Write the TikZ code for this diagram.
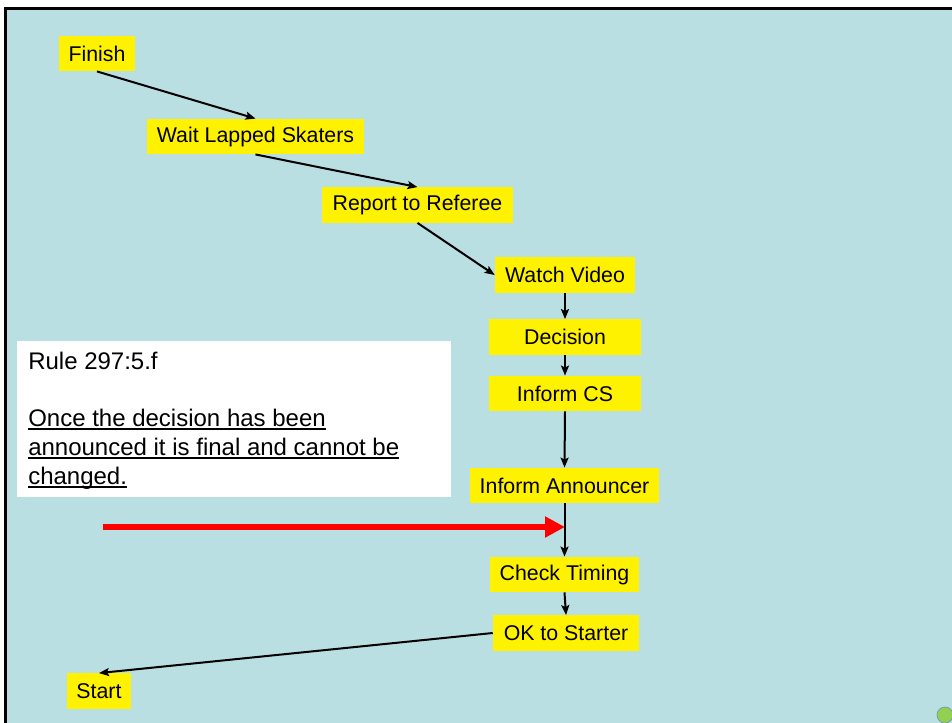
\documentclass[tikz,border=0pt]{standalone}
\usepackage{fontspec}
\setmainfont{Liberation Sans}
\usetikzlibrary{arrows.meta}
\definecolor{bgc}{HTML}{B9DFE3}
\definecolor{grn}{HTML}{92D050}
\definecolor{grnline}{HTML}{7A9CB0}
\begin{document}
\begin{tikzpicture}[x=0.75pt,y=-0.75pt,
  box/.style={fill=yellow, inner sep=0pt, minimum height=26.5pt, font=\fontsize{16}{19}\selectfont, text=black},
  arr/.style={line width=1.5pt, -{Stealth[length=7.5pt,width=6pt,inset=1.5pt]}},
  ruletxt/.style={anchor=base west, inner sep=0pt, font=\fontsize{18}{21.6}\selectfont},
  uline/.style={line width=1.4pt}
]
\useasboundingbox (0,0) rectangle (952,722);
\fill[white] (0,0) rectangle (952,722);
\begin{scope}
  \clip (0,0) rectangle (952,722);
  \filldraw[fill=bgc, draw=black, line width=2pt] (5.3,8.3) rectangle (975,745);
  \filldraw[fill=grn, draw=grnline, line width=0.6pt] (945,715) circle[radius=6pt];
\end{scope}

% flow boxes
\node[box, minimum width=57pt]     (finish)    at (97,53.5)   {Finish};
\node[box, minimum width=162.75pt] (wait)      at (255.5,136.5) {Wait Lapped Skaters};
\node[box, minimum width=143.25pt] (report)    at (417.5,205) {Report to Referee};
\node[box, minimum width=105pt]    (watch)     at (565,275)   {Watch Video};
\node[box, minimum width=114pt]    (decision)  at (565,337)   {Decision};
\node[box, minimum width=114pt]    (informcs)  at (565,393.5) {Inform CS};
\node[box, minimum width=141.75pt] (announcer) at (564.5,485.5) {Inform Announcer};
\node[box, minimum width=111.75pt] (timing)    at (564.5,574.5) {Check Timing};
\node[box, minimum width=109.5pt]  (okstart)   at (566,633)   {OK to Starter};
\node[box, minimum width=48pt]     (start)     at (99,691)    {Start};

% connectors
\draw[arr] (finish.south) -- (wait.north);
\draw[arr] (wait.south) -- (report.north);
\draw[arr] (report.south) -- (watch.west);
\draw[arr] (watch.south) -- (decision.north);
\draw[arr] (decision.south) -- (informcs.north);
\draw[arr] (informcs.south) -- (announcer.north);
\draw[arr] (announcer.south) -- (timing.north);
\draw[arr] (timing.south) -- (okstart.north);
\draw[arr] (okstart.west) -- (start.north);

% rule box
\node[fill=white, inner sep=0pt, minimum width=325.5pt, minimum height=117pt] (rulebox) at (234,419) {};
\node[ruletxt] (ruleA) at (28,369.5) {Rule 297:5.f};
\node[ruletxt] (ruleB) at (28,426.5) {Once the decision has been};
\node[ruletxt] (ruleC) at (28,455.5) {announced it is final and cannot be};
\node[ruletxt] (ruleD) at (28,484.5) {changed.};
\draw[uline] ([yshift=-2pt]ruleB.base west) -- ([yshift=-2pt]ruleB.base east);
\draw[uline] ([yshift=-2pt]ruleC.base west) -- ([yshift=-2pt]ruleC.base east);
\draw[uline] ([yshift=-2pt]ruleD.base west) -- ([yshift=-2pt]ruleD.base east);

% red arrow
\coordinate (redstart) at (103,527);
\coordinate (redtip) at (565,527);
\draw[red, line width=4.5pt, -{Triangle[length=15pt,width=15pt]}] (redstart) -- (redtip);
\end{tikzpicture}
\end{document}
